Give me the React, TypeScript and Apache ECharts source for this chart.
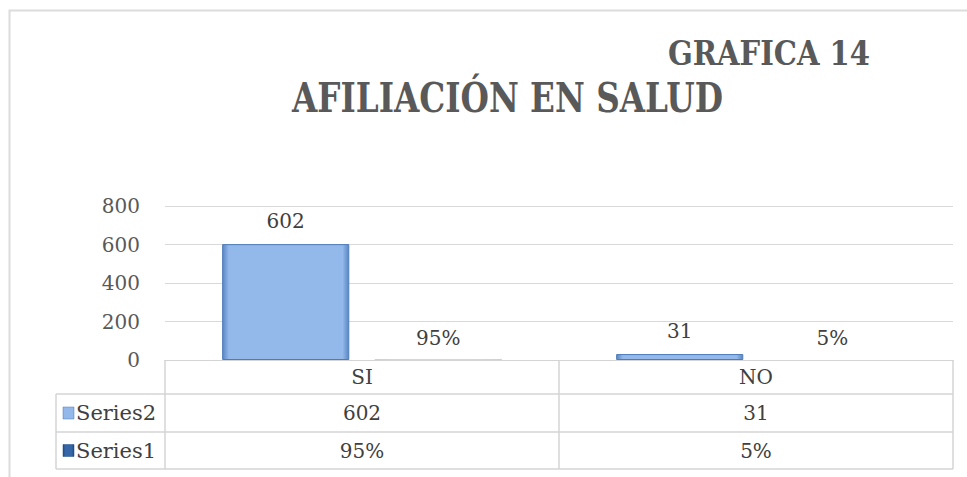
import React, { useEffect, useRef } from 'react';
import * as echarts from 'echarts';

const categories = ['SI', 'NO'];
const seriesNames = ['Series2', 'Series1'];
const series2Values = [602, 31];
const series1Values = [0.95, 0.05];
const series1Labels = ['95%', '5%'];
const yMin = 0;
const yMax = 800;
const yInterval = 200;
const titleMain = 'AFILIACIÓN EN SALUD';
const titleTop = 'GRAFICA 14';

const W = 967;
const H = 477;
const PLOT_LEFT = 165;
const PLOT_RIGHT = 953;
const PLOT_TOP = 206;
const PLOT_BOTTOM = 360;
const TABLE_LEFT = 56;
const ROW_BOTTOMS = [394, 432, 469];
const SERIF = '"DejaVu Serif", serif';
const GRID_COLOR = '#d9d9d9';
const TABLE_COLOR = '#d4d4d4';

function measure(text: string, font: string): number {
  const ctx = document.createElement('canvas').getContext('2d');
  if (!ctx) return 1;
  ctx.font = font;
  return ctx.measureText(text).width;
}

const lightBlue = () =>
  new echarts.graphic.LinearGradient(0, 0, 1, 0, [
    { offset: 0, color: '#5a87c3' },
    { offset: 0.05, color: '#93b8ea' },
    { offset: 0.95, color: '#93b8ea' },
    { offset: 1, color: '#5a87c3' },
  ]);
const darkBlue = () =>
  new echarts.graphic.LinearGradient(0, 0, 1, 0, [
    { offset: 0, color: '#1f4a82' },
    { offset: 0.2, color: '#3566a8' },
    { offset: 0.8, color: '#3566a8' },
    { offset: 1, color: '#1f4a82' },
  ]);

export default function App() {
  const ref = useRef<HTMLDivElement>(null);

  useEffect(() => {
    if (!ref.current) return;
    const chart = echarts.init(ref.current, null, { renderer: 'svg' });

    const option: any = {
      animation: false,
      backgroundColor: '#ffffff',
      grid: {
        left: PLOT_LEFT,
        right: W - PLOT_RIGHT,
        top: PLOT_TOP,
        bottom: H - PLOT_BOTTOM,
        containLabel: false,
      },
      xAxis: {
        type: 'category',
        data: categories,
        axisLine: { show: true, lineStyle: { color: TABLE_COLOR, width: 1 } },
        axisTick: { show: false },
        axisLabel: {
          margin: 7,
          fontFamily: SERIF,
          fontSize: 20,
          color: '#404040',
        },
      },
      yAxis: {
        type: 'value',
        min: yMin,
        max: yMax,
        interval: yInterval,
        axisLine: { show: false },
        axisTick: { show: false },
        splitLine: { lineStyle: { color: GRID_COLOR, width: 1 } },
        axisLabel: {
          margin: 25,
          fontFamily: SERIF,
          fontSize: 20,
          color: '#595959',
        },
      },
      series: [
        {
          name: seriesNames[0],
          type: 'bar',
          data: series2Values,
          barGap: '20%',
          barCategoryGap: '29%',
          itemStyle: { color: lightBlue(), borderColor: '#4f7cb8', borderWidth: 1 },
          label: {
            show: true,
            position: 'top',
            distance: 13,
            fontFamily: SERIF,
            fontSize: 20,
            color: '#404040',
          },
        },
        {
          name: seriesNames[1],
          type: 'bar',
          data: series1Values,
          barGap: '20%',
          barCategoryGap: '29%',
          itemStyle: { color: darkBlue() },
          label: {
            show: true,
            position: 'top',
            distance: 12,
            fontFamily: SERIF,
            fontSize: 20,
            color: '#404040',
            formatter: (p: any) => series1Labels[p.dataIndex],
          },
        },
      ],
    };
    chart.setOption(option);

    // Titles (condensed look via horizontal scaling)
    const topFont = `bold 34px ${SERIF}`;
    const mainFont = `bold 41px ${SERIF}`;
    const topScale = (870 - 668) / measure(titleTop, topFont);
    const mainScale = (723 - 292) / measure(titleMain, mainFont);

    const centers = categories.map((c) => chart.convertToPixel({ xAxisIndex: 0 }, c) as number);
    const band = centers.length > 1 ? centers[1] - centers[0] : PLOT_RIGHT - PLOT_LEFT;
    const bounds = [centers[0] - band / 2, ...centers.map((c) => c + band / 2)];

    const graphics: any[] = [
      {
        type: 'rect',
        silent: true,
        shape: { x: 9.5, y: 10.5, width: 1000, height: 500 },
        style: { fill: 'none', stroke: '#dcdcdc', lineWidth: 2 },
      },
      {
        type: 'text',
        x: 668,
        y: 52.5,
        scaleX: topScale,
        style: {
          text: titleTop,
          x: 0,
          y: 0,
          font: topFont,
          fill: '#595959',
          textAlign: 'left',
          textVerticalAlign: 'middle',
        },
      },
      {
        type: 'text',
        x: 292,
        y: 98,
        scaleX: mainScale,
        style: {
          text: titleMain,
          x: 0,
          y: 0,
          font: mainFont,
          fill: '#595959',
          textAlign: 'left',
          textVerticalAlign: 'middle',
        },
      },
    ];

    // Table vertical lines
    bounds.forEach((bx) => {
      graphics.push({
        type: 'line',
        silent: true,
        shape: { x1: bx, y1: PLOT_BOTTOM, x2: bx, y2: ROW_BOTTOMS[2] },
        style: { stroke: TABLE_COLOR, lineWidth: 1.5 },
      });
    });
    graphics.push({
      type: 'line',
      silent: true,
      shape: { x1: TABLE_LEFT, y1: ROW_BOTTOMS[0], x2: TABLE_LEFT, y2: ROW_BOTTOMS[2] },
      style: { stroke: TABLE_COLOR, lineWidth: 1.5 },
    });
    ROW_BOTTOMS.forEach((ry) => {
      graphics.push({
        type: 'line',
        silent: true,
        shape: { x1: TABLE_LEFT, y1: ry, x2: bounds[bounds.length - 1], y2: ry },
        style: { stroke: TABLE_COLOR, lineWidth: 1.5 },
      });
    });

    const rows = [
      { name: seriesNames[0], cells: series2Values.map((v) => String(v)), color: lightBlue(), border: '#4f7cb8' },
      { name: seriesNames[1], cells: series1Labels, color: darkBlue(), border: '#1f4a82' },
    ];
    rows.forEach((row, r) => {
      const cy = (ROW_BOTTOMS[r] + ROW_BOTTOMS[r + 1]) / 2;
      graphics.push({
        type: 'rect',
        silent: true,
        shape: { x: 63, y: cy - 6, width: 11, height: 12 },
        style: { fill: row.color, stroke: row.border, lineWidth: 0.5 },
      });
      graphics.push({
        type: 'text',
        silent: true,
        style: {
          text: row.name,
          x: 76,
          y: cy,
          font: `21px ${SERIF}`,
          fill: '#404040',
          textAlign: 'left',
          textVerticalAlign: 'middle',
        },
      });
      row.cells.forEach((t, i) => {
        graphics.push({
          type: 'text',
          silent: true,
          style: {
            text: t,
            x: centers[i],
            y: cy,
            font: `20px ${SERIF}`,
            fill: '#404040',
            textAlign: 'center',
            textVerticalAlign: 'middle',
          },
        });
      });
    });

    chart.setOption({ graphic: graphics });

    return () => {
      chart.dispose();
    };
  }, []);

  return (
    <div
      ref={ref}
      style={{ position: 'fixed', left: 0, top: 0, width: W, height: H, background: '#fff' }}
    />
  );
}
